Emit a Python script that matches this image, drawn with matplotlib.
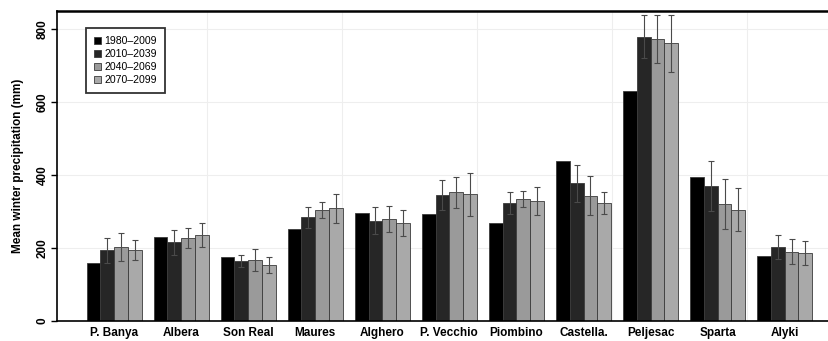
import numpy as np
import matplotlib
matplotlib.use("Agg")
import matplotlib.pyplot as plt

sites = ["P. Banya", "Albera", "Son Real", "Maures", "Alghero", "P. Vecchio",
         "Piombino", "Castella.", "Peljesac", "Sparta", "Alyki"]
periods = ["1980\u20132009", "2010\u20132039", "2040\u20132069", "2070\u20132099"]

p1980 = [158, 231, 176, 253, 295, 292, 269, 439, 631, 395, 178]
p2010 = [194, 215, 164, 284, 275, 345, 322, 377, 779, 370, 203]
p2040 = [203, 227, 167, 304, 280, 352, 334, 343, 772, 321, 190]
p2070 = [194, 235, 154, 309, 269, 347, 329, 323, 760, 305, 187]

e2010 = [34, 34, 17, 29, 36, 40, 30, 50, 58, 68, 33]
e2040 = [39, 28, 31, 21, 35, 43, 23, 54, 65, 68, 34]
e2070 = [28, 33, 22, 40, 35, 59, 38, 30, 77, 59, 33]

values = [p1980, p2010, p2040, p2070]
errors = [None, e2010, e2040, e2070]
colors = ["#000000", "#262626", "#9a9a9a", "#a9a9a9"]

plt.rcParams['font.family'] = ['Liberation Sans', 'DejaVu Sans']

fig = plt.figure(figsize=(8.29, 3.41), dpi=100)
ax = fig.add_axes([57/829, 20/341, 772/829, 310/341])

x = np.arange(len(sites))
w = 0.205
for i in range(4):
    pos = x + (i - 1.5) * w
    ax.bar(pos, values[i], w, color=colors[i], edgecolor="#3a3a3a",
           linewidth=0.6, label=periods[i], zorder=2)
    if errors[i] is not None:
        ax.errorbar(pos, values[i], yerr=errors[i], fmt="none",
                    ecolor="#4a4a4a", elinewidth=0.8, capsize=2.5,
                    capthick=0.8, zorder=3)

ax.set_xlim(-0.85, 10.66)
ax.set_ylim(0, 849)
ax.set_yticks([0, 200, 400, 600, 800])
ax.set_xticks(x)
ax.set_xticklabels(sites, fontsize=8.5, fontweight="bold")
for t in ax.get_yticklabels():
    t.set_rotation(90)
    t.set_va("center")
    t.set_fontsize(8.5)
    t.set_fontweight("bold")
ax.tick_params(axis="x", length=0, pad=4)
ax.tick_params(axis="y", length=4, width=1, pad=2)
ax.set_ylabel("Mean winter precipitation (mm)", fontsize=8.5,
              fontweight="bold", labelpad=9)

ax.set_xticks([1.39, 3.4, 5.41, 7.42, 9.43], minor=True)
ax.tick_params(axis="x", which="minor", length=0)
ax.grid(True, axis="y", color="#eeeeee", linewidth=0.8, zorder=0)
ax.grid(True, axis="x", which="minor", color="#eeeeee", linewidth=0.8, zorder=0)
ax.set_axisbelow(True)

ax.spines["right"].set_visible(False)
ax.spines["top"].set_linewidth(1.8)
ax.spines["left"].set_linewidth(1.2)
ax.spines["bottom"].set_linewidth(1.2)

leg = ax.legend(loc="upper left", bbox_to_anchor=(0.038, 0.945), fontsize=7.6,
                frameon=True, fancybox=False, handlelength=0.65,
                handleheight=0.65, handletextpad=0.3, labelspacing=0.3,
                borderpad=0.75, borderaxespad=0)
leg.get_frame().set_edgecolor("black")
leg.get_frame().set_linewidth(1.3)

fig.savefig("out.png", dpi=100)
